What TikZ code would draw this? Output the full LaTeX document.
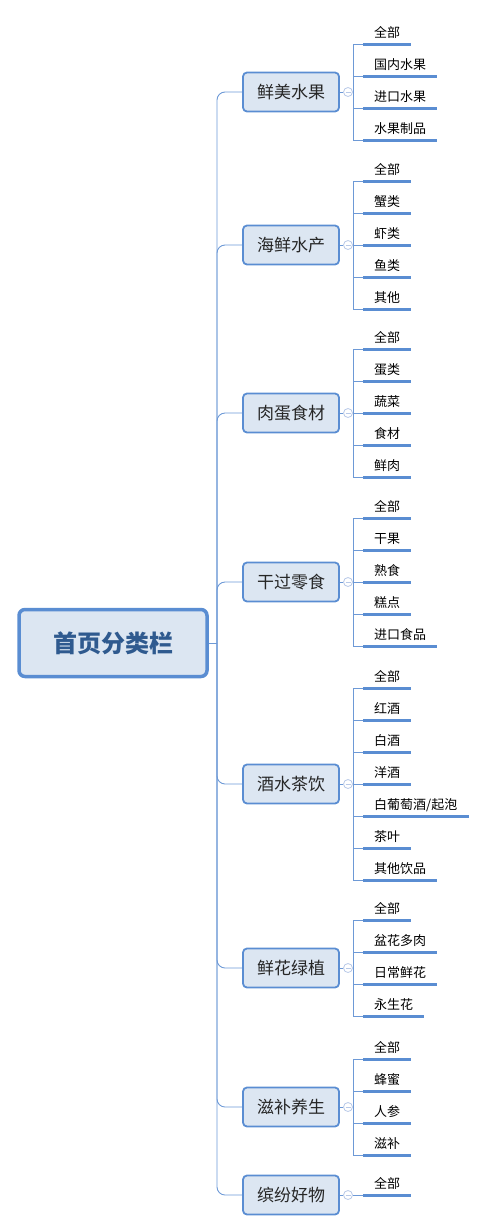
\documentclass[tikz,border=0pt]{standalone}
\usepackage{fontspec}
\setmainfont{Noto Sans CJK SC}
\usetikzlibrary{positioning,calc}
\definecolor{mapblue}{HTML}{5A8DD2}
\definecolor{mapfill}{HTML}{DCE6F2}
\definecolor{maptext}{HTML}{2F5A8F}
\definecolor{mapline}{HTML}{6D99D6}
\definecolor{mapknob}{HTML}{B8C9E8}

\begin{document}
\begin{tikzpicture}[x=1pt, y=-1pt,
  root/.style={draw=mapblue, line width=3.5pt, fill=mapfill, rounded corners=6pt, minimum width=188pt, minimum height=67pt, font=\fontsize{24}{24}\selectfont\bfseries, text=maptext},
  cat/.style={draw=mapblue, line width=1.8pt, fill=mapfill, rounded corners=4pt, minimum width=96pt, minimum height=39pt, font=\fontsize{17}{17}\selectfont, text=black!85},
  leaf/.style={anchor=south west, inner xsep=11pt, inner ysep=0pt, text height=11pt, text depth=6pt, font=\fontsize{13}{13}\selectfont},
  bar/.style={draw=mapblue, line width=3pt},
  link/.style={draw=mapline, line width=0.9pt},
  knob/.style={circle, draw=mapknob, fill=white, line width=0.8pt, inner sep=0pt, minimum size=9pt,
    path picture={\draw[mapknob, line width=0.8pt] ([xshift=-2.5pt]path picture bounding box.center) -- ([xshift=2.5pt]path picture bounding box.center);}}
]
  \useasboundingbox (0,0) rectangle (488,1232);
  % Root
  \node[root] (home) at (113,643) {首页分类栏};
  \coordinate (trunk) at (217,643);
  \draw[link] (home.east) -- (trunk);
  % Categories and their items
  \foreach \cy/\n/\name/\items [count=\j] in {
      92/4/鲜美水果/{全部,国内水果,进口水果,水果制品},
      245/5/海鲜水产/{全部,蟹类,虾类,鱼类,其他},
      413/5/肉蛋食材/{全部,蛋类,蔬菜,食材,鲜肉},
      582/5/干过零食/{全部,干果,熟食,糕点,进口食品},
      784/7/酒水茶饮/{全部,红酒,白酒,洋酒,{白葡萄酒/起泡},茶叶,其他饮品},
      968/4/鲜花绿植/{全部,盆花多肉,日常鲜花,永生花},
      1107/4/滋补养生/{全部,蜂蜜,人参,滋补},
      1195/1/缤纷好物/{全部}} {
    \node[cat] (c\j) at (291,\cy) {\name};
    \draw[link, rounded corners=8pt] (trunk) |- (c\j.west);
    \node[knob] (k\j) at (348,\cy) {};
    \coordinate (b\j) at (353,\cy);
    \draw[link] (c\j.east) -- (k\j.west);
    \draw[link] (k\j.east) -- (b\j);
    \foreach \leaf [count=\k] in \items {
      \node[leaf] (c\j-\k) at (363,{\cy+(\k-(\n+1)/2)*32}) {\leaf};
      \draw[link] (b\j) |- (c\j-\k.south west);
      \draw[bar] (c\j-\k.south west) -- (c\j-\k.south east);
    }
  }
\end{tikzpicture}
\end{document}
